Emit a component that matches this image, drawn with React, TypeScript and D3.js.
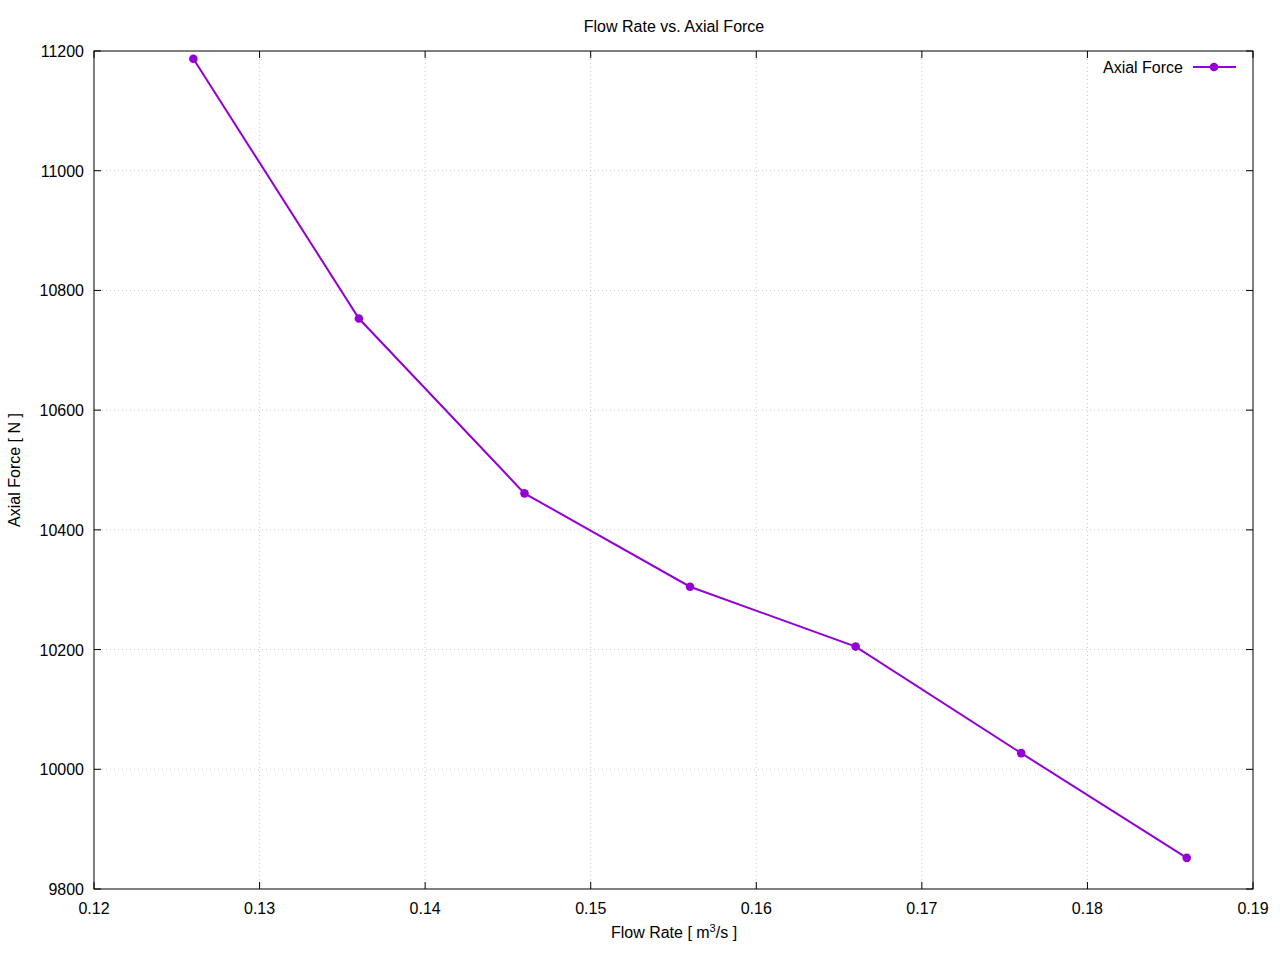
import React from "react";
import * as d3 from "d3";

const flowRates = [0.126, 0.136, 0.146, 0.156, 0.166, 0.176, 0.186];
const axialForces = [11187, 10753, 10461, 10305, 10205, 10027, 9852];
const xTicks = [0.12, 0.13, 0.14, 0.15, 0.16, 0.17, 0.18, 0.19];
const yTicks = [9800, 10000, 10200, 10400, 10600, 10800, 11000, 11200];

const W = 1280, H = 960;
const L = 94, R = 1253, T = 51, B = 889;
const COLOR = "#9400d3";
const FONT = "'Liberation Sans', Arial, sans-serif";

export default function App() {
  const x = d3.scaleLinear().domain([0.12, 0.19]).range([L, R]);
  const y = d3.scaleLinear().domain([9800, 11200]).range([B, T]);
  const line = d3.line<number>().x((_, i) => x(flowRates[i])).y((d) => y(d));
  const tl = 7;
  return (
    <svg width={W} height={H} style={{ position: "absolute", left: 0, top: 0 }} fontFamily={FONT}>
      <rect width={W} height={H} fill="#fff" />
      {/* grid */}
      {xTicks.slice(1, -1).map((t) => (
        <line key={"gx" + t} x1={x(t)} x2={x(t)} y1={T} y2={B} stroke="#c8c8c8" strokeWidth={1} strokeDasharray="1,3" />
      ))}
      {yTicks.slice(1, -1).map((t) => (
        <line key={"gy" + t} x1={L} x2={R} y1={y(t)} y2={y(t)} stroke="#c8c8c8" strokeWidth={1} strokeDasharray="1,3" />
      ))}
      {/* ticks */}
      {xTicks.map((t) => (
        <g key={"tx" + t}>
          <line x1={x(t)} x2={x(t)} y1={B} y2={B - tl} stroke="#000" />
          <line x1={x(t)} x2={x(t)} y1={T} y2={T + tl} stroke="#000" />
          <text x={x(t)} y={914} textAnchor="middle" fontSize={16}>{t.toFixed(2)}</text>
        </g>
      ))}
      {yTicks.map((t) => (
        <g key={"ty" + t}>
          <line x1={L} x2={L + tl} y1={y(t)} y2={y(t)} stroke="#000" />
          <line x1={R} x2={R - tl} y1={y(t)} y2={y(t)} stroke="#000" />
          <text x={84} y={y(t) + 6} textAnchor="end" fontSize={16}>{t}</text>
        </g>
      ))}
      <rect x={L} y={T} width={R - L} height={B - T} fill="none" stroke="#000" strokeWidth={1} />
      {/* data */}
      <path d={line(axialForces) || ""} fill="none" stroke={COLOR} strokeWidth={2} />
      {axialForces.map((v, i) => (
        <circle key={i} cx={x(flowRates[i])} cy={y(v)} r={4.3} fill={COLOR} />
      ))}
      {/* legend */}
      <text x={1183} y={73} textAnchor="end" fontSize={16}>Axial Force</text>
      <line x1={1193} x2={1236} y1={67} y2={67} stroke={COLOR} strokeWidth={2} />
      <circle cx={1214} cy={67} r={4.3} fill={COLOR} />
      {/* labels */}
      <text x={674} y={32} textAnchor="middle" fontSize={16}>Flow Rate vs. Axial Force</text>
      <text x={674} y={938} textAnchor="middle" fontSize={16}>
        Flow Rate [ m<tspan dy={-6} fontSize={11}>3</tspan><tspan dy={6}>/s ]</tspan>
      </text>
      <text transform={`translate(20,470) rotate(-90)`} textAnchor="middle" fontSize={16}>Axial Force [ N ]</text>
    </svg>
  );
}
